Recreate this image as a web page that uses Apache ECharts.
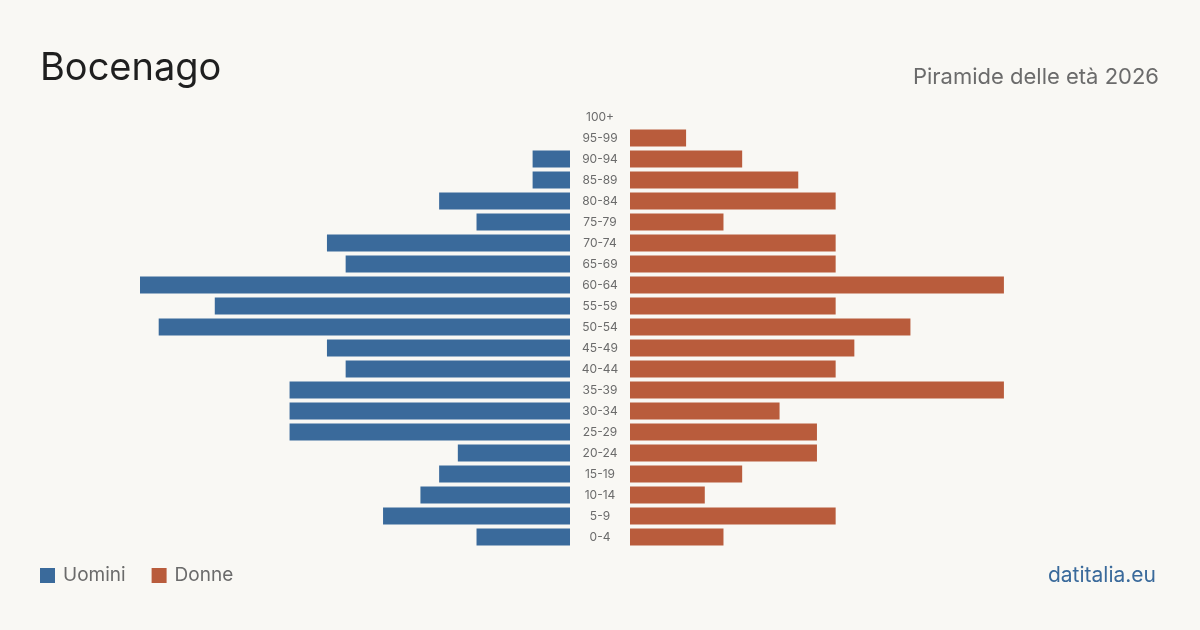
<!DOCTYPE html>
<html>
<head>
<meta charset="utf-8">
<script src="https://cdn.jsdelivr.net/npm/echarts@6/dist/echarts.min.js"></script>
<style>
  html, body { margin: 0; padding: 0; background: #f9f8f4; }
  #chart { width: 1200px; height: 630px; }
</style>
</head>
<body>
<div id="chart"></div>
<script>
// fasce d'età dall'alto verso il basso
const ageGroups = ['100+', '95-99', '90-94', '85-89', '80-84', '75-79', '70-74', '65-69',
  '60-64', '55-59', '50-54', '45-49', '40-44', '35-39', '30-34', '25-29',
  '20-24', '15-19', '10-14', '5-9', '0-4']
const uomini = [0, 0, 2, 2, 7, 5, 13, 12, 23, 19, 22, 13, 12, 15, 15, 15, 6, 7, 8, 10, 5]
const donne = [0, 3, 6, 9, 11, 5, 11, 11, 20, 11, 15, 12, 11, 20, 8, 10, 10, 6, 4, 11, 5]

const maxVal = Math.max(...uomini, ...donne)
const blue = '#3a6a9b'
const red = '#b95c3c'
const font = 'Inter, "Noto Sans", sans-serif'

const chart = echarts.init(document.getElementById('chart'))
chart.setOption({
  backgroundColor: '#f9f8f4',
  animation: false,
  textStyle: { fontFamily: font },
  title: [
    {
      text: 'Bocenago',
      left: 40,
      top: 50,
      padding: 0,
      textStyle: { fontFamily: font, fontSize: 38, fontWeight: 'normal', color: '#1f1f1f' }
    },
    {
      text: 'Piramide delle età 2026',
      right: 41,
      top: 66,
      padding: 0,
      textStyle: { fontFamily: font, fontSize: 22, fontWeight: 'normal', color: '#6b6b6b' }
    },
    {
      text: 'datitalia.eu',
      right: 44,
      top: 565,
      padding: 0,
      textStyle: { fontFamily: font, fontSize: 21, fontWeight: 'normal', color: blue }
    }
  ],
  legend: {
    left: 40,
    top: 566,
    padding: 0,
    itemWidth: 15,
    itemHeight: 15,
    itemGap: 26,
    icon: 'rect',
    textStyle: { fontFamily: font, fontSize: 19, color: '#6b6b6b', padding: [0, 0, 0, 3] },
    data: ['Uomini', 'Donne']
  },
  grid: [
    { left: 140, width: 430, top: 106.5, bottom: 82.5 },
    { left: 630, width: 430, top: 106.5, bottom: 82.5 }
  ],
  xAxis: [
    { gridIndex: 0, type: 'value', inverse: true, min: 0, max: maxVal, show: false },
    { gridIndex: 1, type: 'value', min: 0, max: maxVal, show: false }
  ],
  yAxis: [
    {
      gridIndex: 0,
      type: 'category',
      data: ageGroups,
      inverse: true,
      position: 'right',
      axisLine: { show: false },
      axisTick: { show: false },
      axisLabel: { margin: 30, align: 'center', fontSize: 12, color: '#6b6b6b', fontFamily: font }
    },
    {
      gridIndex: 1,
      type: 'category',
      data: ageGroups,
      inverse: true,
      show: false
    }
  ],
  series: [
    {
      name: 'Uomini',
      type: 'bar',
      xAxisIndex: 0,
      yAxisIndex: 0,
      data: uomini,
      barWidth: 17,
      itemStyle: { color: blue }
    },
    {
      name: 'Donne',
      type: 'bar',
      xAxisIndex: 1,
      yAxisIndex: 1,
      data: donne,
      barWidth: 17,
      itemStyle: { color: red }
    }
  ]
})
</script>
</body>
</html>
